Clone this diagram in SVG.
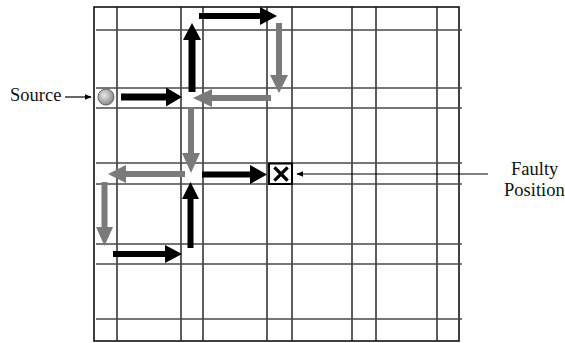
<svg xmlns="http://www.w3.org/2000/svg" width="565" height="343" viewBox="0 0 565 343">
<defs>
<radialGradient id="srcGrad" cx="0.4" cy="0.4" r="0.6">
<stop offset="0" stop-color="#e8e8e8"/>
<stop offset="1" stop-color="#8a8a8a"/>
</radialGradient>
<marker id="thinHead" viewBox="0 0 10 10" refX="9" refY="5" markerWidth="7" markerHeight="7" orient="auto" markerUnits="userSpaceOnUse">
<path d="M0,1 L10,5 L0,9 z" fill="#000"/>
</marker>
<style>
.vl{stroke:#1a1a1a;stroke-width:1.4;fill:none}
.hl{stroke:#4a4a4a;stroke-width:1.6;fill:none}
.blk{fill:#000}
.gry{fill:#7a7a7a}
.lbl{font-size:18.5px;fill:#111}
.thin{stroke:#000;stroke-width:1.2;fill:none}
</style>
</defs>
<rect width="565" height="343" fill="#fff"/>
<g id="grid">
<rect x="94" y="7" width="365" height="334" fill="none" stroke="#111" stroke-width="1.6"/>
<path class="vl" d="M117,7V341 M181,7V341 M203,7V341 M267,7V341 M292,7V341 M352,7V341 M376,7V341 M437,7V341"/>
<path class="hl" d="M96,30H462 M96,88H462 M96,108H462 M96,163H462 M96,184H462 M96,244H462 M96,264H462 M96,319H462"/>
</g>
<g id="source">
<circle cx="106" cy="97" r="8" fill="url(#srcGrad)" stroke="#666" stroke-width="1"/>
<text class="lbl" x="10" y="101" font-family="'Liberation Serif', 'Times New Roman', serif">Source</text>
<line class="thin" x1="65" y1="97" x2="91" y2="97" marker-end="url(#thinHead)"/>
</g>
<g id="faulty">
<rect x="269" y="163.5" width="23" height="20.5" fill="#fff" stroke="#000" stroke-width="2"/>
<path d="M275.5,168.5L286.5,179.5M286.5,168.5L275.5,179.5" stroke="#000" stroke-width="3.2" stroke-linecap="square"/>
<text class="lbl" x="511" y="175" font-family="'Liberation Serif', 'Times New Roman', serif">Faulty</text>
<text class="lbl" x="504" y="196" font-family="'Liberation Serif', 'Times New Roman', serif">Position</text>
<line class="thin" x1="488" y1="174" x2="297" y2="174" marker-end="url(#thinHead)"/>
</g>
<g id="connectors">
<polygon class="blk" points="121,93.5 166,93.5 166,87.5 182,97 166,106.5 166,100.5 121,100.5"/>
<polygon class="blk" points="188.5,92 188.5,40 183,40 192,23 201,40 195.5,40 195.5,92"/>
<polygon class="blk" points="199,13 260,13 260,7 277,16 260,25 260,19 199,19"/>
<polygon class="gry" points="276,23 276,75 270,75 279,93 288,75 282,75 282,23"/>
<polygon class="gry" points="271,95 212,95 212,89 193,98 212,107 212,101 271,101"/>
<polygon class="gry" points="188,107 188,153 182,153 191,173 200,153 194,153 194,107"/>
<polygon class="gry" points="185,171 126,171 126,165 108,174 126,183 126,177 185,177"/>
<polygon class="blk" points="202,171.5 250,171.5 250,165 267,174.5 250,184 250,177.5 202,177.5"/>
<polygon class="gry" points="101.5,182 101.5,227 96,227 104.5,246 113,227 107.5,227 107.5,182"/>
<polygon class="blk" points="113,251 165,251 165,245 182,254 165,263 165,257 113,257"/>
<polygon class="blk" points="187.5,248 187.5,199 182,199 190.5,182 199,199 193.5,199 193.5,248"/>
</g>
</svg>
